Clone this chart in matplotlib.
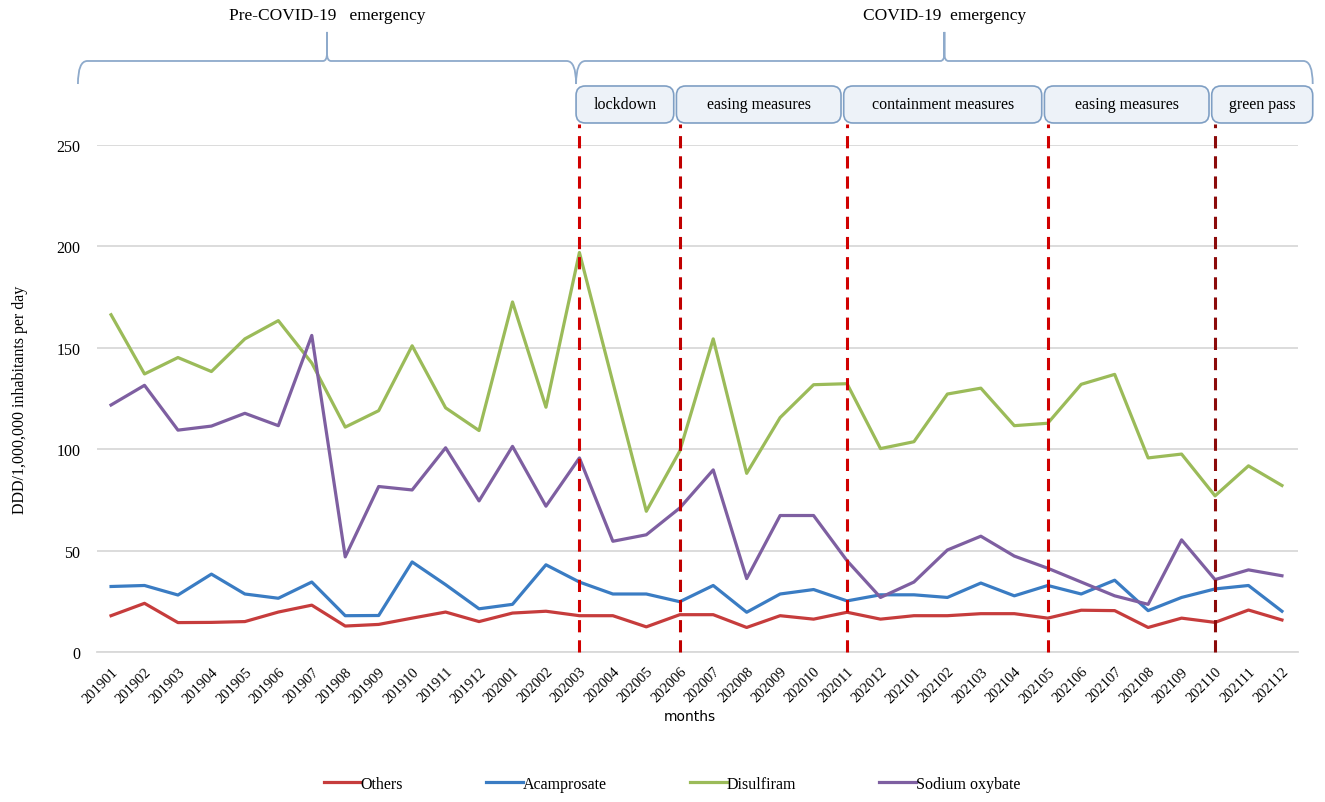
import numpy as np
import matplotlib
matplotlib.use('Agg')
import matplotlib.pyplot as plt
from matplotlib.patches import FancyBboxPatch, PathPatch
from matplotlib.path import Path

# ---- data ----
months = ['201901', '201902', '201903', '201904', '201905', '201906', '201907', '201908',
          '201909', '201910', '201911', '201912', '202001', '202002', '202003', '202004',
          '202005', '202006', '202007', '202008', '202009', '202010', '202011', '202012',
          '202101', '202102', '202103', '202104', '202105', '202106', '202107', '202108',
          '202109', '202110', '202111', '202112']

others = [17.9, 24.0, 14.5, 14.6, 15.0, 19.7, 23.1, 12.8, 13.6, 16.7, 19.7, 15.0,
          19.2, 20.1, 17.9, 17.9, 12.4, 18.4, 18.4, 12.1, 17.9, 16.2, 19.6, 16.2,
          17.9, 17.9, 18.9, 18.9, 16.7, 20.6, 20.4, 12.1, 16.7, 14.6, 20.7, 15.8]
acamprosate = [32.3, 32.8, 28.1, 38.4, 28.6, 26.5, 34.5, 17.9, 18.0, 44.4, 33.2, 21.3,
               23.5, 43.0, 34.5, 28.6, 28.6, 24.8, 32.8, 19.6, 28.6, 30.8, 25.2, 28.2,
               28.2, 26.9, 34.0, 27.7, 32.8, 28.6, 35.4, 20.4, 26.9, 31.1, 32.8, 20.1]
disulfiram = [166.3, 137.1, 145.2, 138.3, 154.4, 163.4, 142.5, 110.9, 119.0, 151.0, 120.4, 109.2,
              172.6, 120.7, 197.0, 133.0, 69.4, 99.1, 154.4, 88.1, 115.6, 131.8, 132.3, 100.3,
              103.7, 127.2, 130.1, 111.6, 112.8, 132.0, 136.9, 95.7, 97.6, 77.0, 91.8, 82.1]
sodium_oxybate = [121.8, 131.5, 109.4, 111.4, 117.7, 111.6, 156.1, 46.9, 81.6, 79.9, 100.7, 74.5,
                  101.4, 71.9, 95.7, 54.6, 57.8, 71.0, 89.8, 36.2, 67.3, 67.3, 45.0, 26.9,
                  34.5, 50.3, 57.1, 47.3, 41.3, 34.5, 27.7, 23.5, 55.3, 35.7, 40.5, 37.6]

series_names = ['Others', 'Acamprosate', 'Disulfiram', 'Sodium oxybate']
event_months = ['202003', '202006', '202011', '202105', '202110']
phase_labels = ['lockdown', 'easing measures', 'containment measures', 'easing measures', 'green pass']
period_labels = ['Pre-COVID-19   emergency', 'COVID-19  emergency']

# ---- style ----
plt.rcParams['font.family'] = ['Liberation Serif', 'DejaVu Serif']
colors = ['#C63C3C', '#3A7CC3', '#9BBB59', '#7E5FA1']
event_colors = ['#D00000', '#C00000', '#D00000', '#D00000', '#8B0A0A']
brace_color = '#8EAACB'

W, H = 1325, 803
fig = plt.figure(figsize=(W / 100, H / 100), dpi=100)
ax = fig.add_axes([97 / W, 1 - 653 / H, (1298 - 97) / W, 507 / H])

x = np.arange(len(months))
for vals, name, c in zip([others, acamprosate, disulfiram, sodium_oxybate], series_names, colors):
    ax.plot(x, vals, color=c, lw=2.3, label=name, solid_joinstyle='round', zorder=3)

ax.set_xlim(-0.42, len(months) - 1 + 0.48)
ax.set_ylim(0, 250)
ax.set_yticks(np.arange(0, 251, 50))
ax.grid(axis='y', color='#D9D9D9', lw=1.3)
ax.set_axisbelow(True)
for s in ['left', 'top', 'right']:
    ax.spines[s].set_visible(False)
ax.spines['bottom'].set_color('#D9D9D9')
ax.spines['bottom'].set_linewidth(1.3)
ax.set_xticks(x)
ax.set_xticklabels(months, rotation=45, ha='right', rotation_mode='anchor', fontsize=10.5)
ax.tick_params(axis='x', length=0, pad=9)
ax.tick_params(axis='y', length=0, pad=12, labelsize=11.5)

# event lines
for m, c in zip(event_months, event_colors):
    i = months.index(m)
    ax.axvline(i, ymin=0, ymax=1.041, color=c, lw=2.2, dashes=(4, 2.6), clip_on=False, zorder=4)

# phase boxes
xtr = ax.get_xaxis_transform()
to_fig = xtr + fig.transFigure.inverted()
ev_idx = [months.index(m) for m in event_months]
bounds = ev_idx + [len(months) - 1 + 0.92]
y_lo, y_hi = 1.0434, 1.1164
for k, lab in enumerate(phase_labels):
    x0 = bounds[k] - 0.1
    x1 = bounds[k + 1] - (0.18 if k < len(phase_labels) - 1 else 0)
    (fx0, fy0), (fx1, fy1) = to_fig.transform([(x0, y_lo), (x1, y_hi)])
    box = FancyBboxPatch((fx0, fy0), fx1 - fx0, fy1 - fy0,
                         boxstyle='round,pad=0,rounding_size=0.007',
                         mutation_aspect=W / H, transform=fig.transFigure,
                         fc='#EDF2F8', ec='#7F9FC4', lw=1.2)
    fig.add_artist(box)
    fig.text((fx0 + fx1) / 2, (fy0 + fy1) / 2, lab, ha='center', va='center', fontsize=11.5)


# braces: curled ends, thin spike in the middle
def brace(x0, x1, ylow=1.1203, ymid=1.1657, yneck=1.181, ytip=1.223, dx=0.28, dn=0.12):
    xm = (x0 + x1) / 2
    verts = [(x0, ylow), (x0, ymid), (x0 + dx, ymid), (xm - dn, ymid),
             (xm, ymid), (xm, yneck), (xm, ytip), (xm, yneck),
             (xm, ymid), (xm + dn, ymid),
             (x1 - dx, ymid), (x1, ymid), (x1, ylow)]
    codes = [Path.MOVETO, Path.CURVE3, Path.CURVE3, Path.LINETO,
             Path.CURVE3, Path.CURVE3, Path.LINETO, Path.LINETO,
             Path.CURVE3, Path.CURVE3,
             Path.LINETO, Path.CURVE3, Path.CURVE3]
    ax.add_patch(PathPatch(Path(verts, codes), transform=xtr, fill=False,
                           ec=brace_color, lw=1.3, clip_on=False))
    return xm


start = ev_idx[0] - 0.1
for (a, b), lab in zip([(-0.99, start), (start, bounds[-1])], period_labels):
    xm = brace(a, b)
    ax.text(xm, 1.256, lab, transform=xtr, ha='center', va='center', fontsize=12.5)

fig.text(20 / W, 1 - 400 / H, 'DDD/1,000,000 inhabitants per day', rotation=90,
         ha='center', va='center', fontsize=11.5)
fig.text(690 / W, 1 - 717 / H, 'months', ha='center', va='center', fontsize=10,
         family='DejaVu Sans')

fig.legend(loc='center', bbox_to_anchor=(672 / W, 1 - 785 / H), ncol=4, frameon=False,
           handlelength=2.3, handletextpad=0.0, columnspacing=5.2, fontsize=11.5)

fig.savefig('out.png', dpi=100)
